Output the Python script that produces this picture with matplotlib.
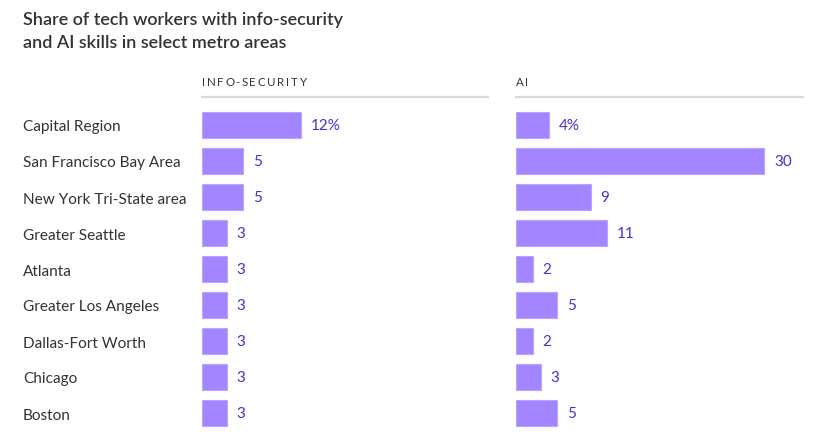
import matplotlib.pyplot as plt
import numpy as np

metros = ['Capital Region', 'San Francisco Bay Area', 'New York Tri-State area',
          'Greater Seattle', 'Atlanta', 'Greater Los Angeles', 'Dallas-Fort Worth',
          'Chicago', 'Boston']
infosec = [12, 5, 5, 3, 3, 3, 3, 3, 3]
ai = [4, 30, 9, 11, 2, 5, 2, 3, 5]
panels = ['INFO-SECURITY', 'AI']

bar_col = '#a385ff'
lab_col = '#4a2fc8'
txt_col = '#333333'
plt.rcParams['font.family'] = ['Lato', 'DejaVu Sans']

W, H = 813, 437
fig = plt.figure(figsize=(W / 100, H / 100), dpi=100)

def fx(px):
    return px / W

def fy(py):
    return 1 - py / H

def spaced_text(x_px, y_px, s, track=1.6, **kw):
    # draw text with letter spacing, one glyph at a time
    r = fig.canvas.get_renderer()
    x = x_px
    for ch in s:
        t = fig.text(fx(x), fy(y_px), ch, **kw)
        w = t.get_window_extent(renderer=r).width
        x += w + track

bottom, top = fy(431), fy(107)
lefts = [(202, 488), (516, 803)]
y = np.arange(len(metros))

for i, (vals, name) in enumerate(zip([infosec, ai], panels)):
    x0, x1 = lefts[i]
    ax = fig.add_axes([fx(x0), bottom, fx(x1 - x0), top - bottom])
    ax.barh(y, vals, height=0.72, color=bar_col, edgecolor='#b9a4ff', linewidth=0.8)
    ax.set_xlim(0, (x1 - x0) / 8.28)
    ax.set_ylim(len(metros) - 0.5, -0.5)
    ax.axis('off')
    for j, v in enumerate(vals):
        s = f'{v}%' if j == 0 else str(v)
        ax.text(v + 1.15, j, s, va='center_baseline', ha='left', fontsize=11, color=lab_col)
    # header and rule
    spaced_text(x0, 82, name, fontsize=8.3, color=txt_col, va='center_baseline', ha='left')
    fig.add_artist(plt.Line2D([fx(x0), fx(x1)], [fy(97), fy(97)],
                              color='#d9d9d9', linewidth=1.6))

for j, m in enumerate(metros):
    fig.text(fx(23), fy(126 + 36 * j), m, fontsize=11.1, color=txt_col,
             va='center_baseline', ha='left')

fig.text(fx(23), fy(18), 'Share of tech workers with info-security', fontsize=13,
         fontweight='semibold', color=txt_col, va='center_baseline', ha='left')
fig.text(fx(23), fy(41), 'and AI skills in select metro areas', fontsize=13,
         fontweight='semibold', color=txt_col, va='center_baseline', ha='left')

fig.savefig('out.png', dpi=100)
